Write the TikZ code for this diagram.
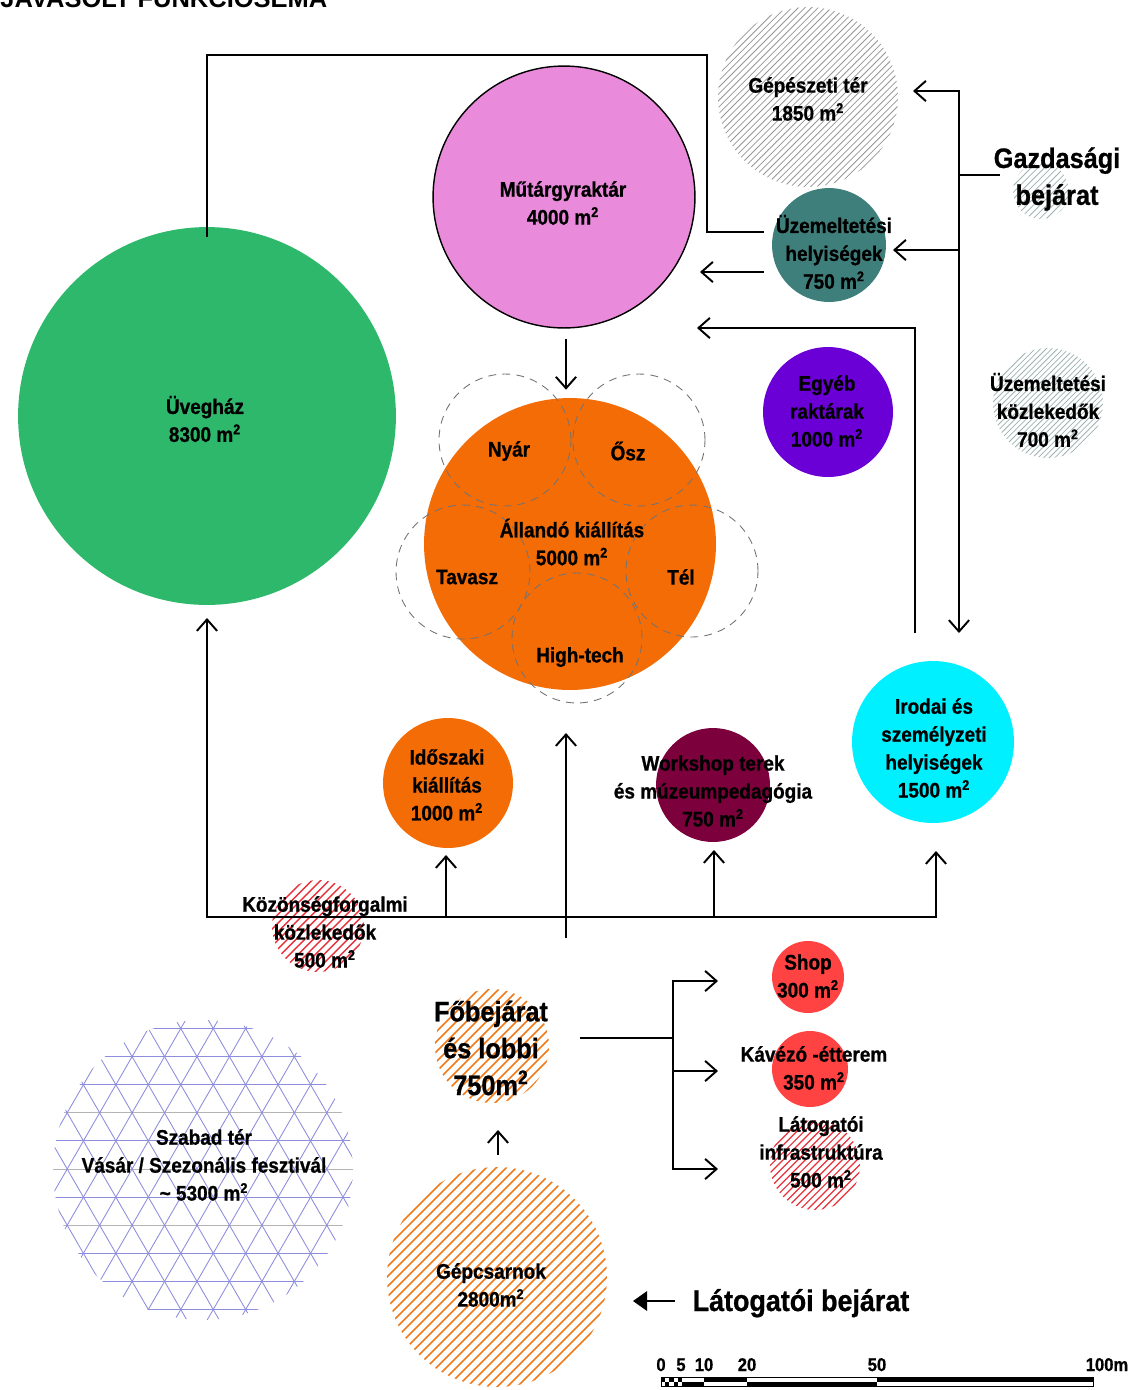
\documentclass[tikz,border=0pt]{standalone}
\usepackage{fontspec}
\setmainfont{Liberation Sans}[FakeStretch=0.9, BoldFeatures={FakeBold=0.8}]
\newfontfamily\titlefont{Liberation Sans}
\usepackage{tikz}
\usetikzlibrary{arrows.meta,calc}

\definecolor{uveggreen}{HTML}{2EB86B}
\definecolor{mutpink}{HTML}{E98ADA}
\definecolor{uzteal}{HTML}{3E7F7C}
\definecolor{egypurple}{HTML}{6A00D6}
\definecolor{expoorange}{HTML}{F46C06}
\definecolor{wsmaroon}{HTML}{7B003C}
\definecolor{irocyan}{HTML}{00F0FF}
\definecolor{shopred}{HTML}{FF4242}
\definecolor{hatchgray}{HTML}{959595}
\definecolor{hatchteal}{HTML}{9DB2B0}
\definecolor{hatchred}{HTML}{E8303A}
\definecolor{hatchorange}{HTML}{F07A18}
\definecolor{gridblue}{HTML}{8E8EDE}
\definecolor{gridgray}{HTML}{B4B4B4}

\newcommand{\lbl}{\fontsize{12}{15.9}\selectfont\bfseries}
\newcommand{\biglbl}{\fontsize{16}{21}\selectfont\bfseries}
\newcommand{\sqm}{m\textsuperscript{2}}

\begin{document}
\begin{tikzpicture}[
        x=0.02cm, y=-0.02cm,
        blob/.style={circle, inner sep=0pt, minimum size=#1*0.04cm},
        txt/.style={font=\lbl, align=center, inner sep=0pt},
        bigtxt/.style={font=\biglbl, align=center, inner sep=0pt},
        scaletxt/.style={font=\fontsize{10.5}{12}\selectfont\bfseries, inner sep=0pt, anchor=base},
        season/.style={blob=#1, draw=black!55, dash pattern=on 4.5pt off 3.5pt, line width=0.5pt},
        hatch/.style n args={3}{path picture={
            \foreach \k in {-25,...,25}
                \draw[#1, line width=#2] ($(path picture bounding box.center)+(\k*#3-150,\k*#3+150)$) -- ++(300,-300);
        }},
        trigrid/.style={path picture={
            \foreach \j in {-6,...,6}
                \draw[gridblue, line width=0.5pt] ($(path picture bounding box.center)+(-200,\j*28.1-1)$) -- ++(400,0);
            \foreach \j in {-2,0,2}
                \draw[gridgray, line width=0.5pt] ($(path picture bounding box.center)+(-200,\j*28.1-1)$) -- ++(400,0);
            \foreach \k in {-12,...,12} {
                \draw[gridblue, line width=0.5pt] ($(path picture bounding box.center)+(\k*32.45-6-6*32.45,-1-12*28.1)$) -- ++(12*32.45,24*28.1);
                \draw[gridblue, line width=0.5pt] ($(path picture bounding box.center)+(\k*32.45-6+6*32.45,-1-12*28.1)$) -- ++(-12*32.45,24*28.1);
            }
        }},
        link/.style={line width=1.1pt},
        arrow/.style={link, -{Straight Barb[length=6.5pt,width=11.5pt]}},
        twoarrow/.style={link, {Straight Barb[length=6.5pt,width=11.5pt]}-{Straight Barb[length=6.5pt,width=11.5pt]}},
        bigarrow/.style={line width=1.4pt, -{Triangle[length=8pt,width=11pt]}}
    ]
    \clip (0,0) rectangle (1134,1390);

    % Title (cut at the top)
    \node[font=\titlefont\fontsize{14.5}{16}\selectfont\bfseries, anchor=base west, inner sep=0pt] (title) at (0,7) {JAVASOLT FUNKCIÓSÉMA};

    % Areas
    \node[blob=189, fill=uveggreen] (uveg) at (207,416) {};
    \node[txt] (uveg-t) at (205,419) {Üvegház\\8300 \sqm};

    \node[blob=131, fill=mutpink, draw=black, line width=0.8pt] (mut) at (564,197) {};
    \node[txt] (mut-t) at (563,203) {Műtárgyraktár\\4000 \sqm};

    \node[blob=90, hatch={hatchgray}{0.45pt}{3.3}] (gep) at (808,97) {};
    \node[txt] (gep-t) at (808,99) {Gépészeti tér\\1850 \sqm};

    \node[blob=57, fill=uzteal] (uzh) at (829,245) {};
    \node[txt] (uzh-t) at (834,252) {Üzemeltetési\\helyiségek\\750 \sqm};

    \node[blob=28, hatch={hatchteal}{0.45pt}{3.3}] (gazd) at (1041,191) {};
    \node[bigtxt] (gazd-t) at (1057,179) {Gazdasági\\bejárat};

    \node[blob=65, fill=egypurple] (egy) at (828,412) {};
    \node[txt] (egy-t) at (827,411) {Egyéb\\raktárak\\1000 \sqm};

    \node[blob=55, hatch={hatchteal}{0.45pt}{2.8}] (uzk) at (1048,403) {};
    \node[txt] (uzk-t) at (1048,410) {Üzemeltetési\\közlekedők\\700 \sqm};

    \node[blob=146, fill=expoorange] (allando) at (570,544) {};
    \node[season=66] (nyar) at (505,440) {};
    \node[season=66] (osz) at (639,440) {};
    \node[season=67] (tavasz) at (463,572) {};
    \node[season=66] (tel) at (692,571) {};
    \node[season=65] (hitech) at (577,638) {};
    \node[txt] (allando-t) at (572,542) {Állandó kiállítás\\5000 \sqm};
    \node[txt] (nyar-t) at (509,451) {Nyár};
    \node[txt] (osz-t) at (628,451) {Ősz};
    \node[txt] (tavasz-t) at (467,577) {Tavasz};
    \node[txt] (tel-t) at (681,577) {Tél};
    \node[txt] (hitech-t) at (580,657) {High-tech};

    \node[blob=65, fill=expoorange] (ido) at (448,783) {};
    \node[txt] (ido-t) at (447,785) {Időszaki\\kiállítás\\1000 \sqm};

    \node[blob=57, fill=wsmaroon] (ws) at (713,785) {};
    \node[txt] (ws-t) at (713,791) {Workshop terek\\és múzeumpedagógia\\750 \sqm};

    \node[blob=81, fill=irocyan] (iro) at (933,742) {};
    \node[txt] (iro-t) at (934,748) {Irodai és\\személyzeti\\helyiségek\\1500 \sqm};

    \node[blob=46, hatch={hatchred}{0.8pt}{4.3}] (kozf) at (318,926) {};
    \node[txt] (kozf-t) at (325,932) {Közönségforgalmi\\közlekedők\\500 \sqm};

    \node[blob=36, fill=shopred] (shop) at (808,977) {};
    \node[txt] (shop-t) at (808,976) {Shop\\300 \sqm};

    \node[blob=38, fill=shopred] (kav) at (810,1069) {};
    \node[txt] (kav-t) at (814,1068) {Kávézó -étterem\\350 \sqm};

    \node[blob=45, hatch={hatchred}{0.7pt}{3.7}] (infra) at (815,1165) {};
    \node[txt] (infra-t) at (821,1152) {Látogatói\\infrastruktúra\\500 \sqm};

    \node[blob=57, hatch={hatchorange}{0.85pt}{5}] (lobby) at (492,1046) {};
    \node[bigtxt] (lobby-t) at (491,1048) {Főbejárat\\és lobbi\\750\sqm};

    \node[blob=110, hatch={hatchorange}{0.85pt}{5}] (gepcs) at (497,1277) {};
    \node[txt] (gepcs-t) at (491,1285) {Gépcsarnok\\2800\sqm};

    \node[blob=150, trigrid] (szabad) at (203,1170) {};
    \node[txt] (szabad-t) at (204,1165) {Szabad tér\\Vásár / Szezonális fesztivál\\\textasciitilde{} 5300 \sqm};

    \node[font=\fontsize{17}{20}\selectfont\bfseries, inner sep=0pt, anchor=base] (latb) at (801,1311) {Látogatói bejárat};

    % Connector ends
    \coordinate (topR) at (707,55);
    \coordinate (uzh-w) at (764,232);
    \coordinate (uzh-w2) at (764,272);
    \coordinate (mut-e) at (700,272);
    \coordinate (iro-up) at (915,633);
    \coordinate (mut-e2) at (697,328);
    \coordinate (gep-e) at (913,91);
    \coordinate (gazd-bot) at (959,633);
    \coordinate (gz-mid) at (959,250);
    \coordinate (uzh-e) at (893,250);
    \coordinate (gz-txt) at (959,175);
    \coordinate (gazd-in) at (1000,175);
    \coordinate (uveg-in) at (207,618);
    \coordinate (busR) at (936,917);
    \coordinate (iro-in) at (936,851);
    \coordinate (ido-in) at (446,855);
    \coordinate (ws-in) at (714,850);
    \coordinate (lobby-up) at (566,938);
    \coordinate (allando-in) at (566,733);
    \coordinate (lobby-out) at (580,1038);
    \coordinate (brX) at (673,1038);
    \coordinate (shop-in) at (718,981);
    \coordinate (kav-in) at (718,1071);
    \coordinate (infra-in) at (718,1169);
    \coordinate (gepcs-up) at (498,1155);
    \coordinate (lobby-in) at (498,1130);
    \coordinate (latb-out) at (675,1301);
    \coordinate (gepcs-e) at (633,1301);

    % Connectors
    \draw[link] ($(uveg.north)+(0,10)$) |- (topR) |- (uzh-w);
    \draw[arrow] (uzh-w2) -- (mut-e);
    \draw[arrow] (iro-up) |- (mut-e2);
    \draw[twoarrow] (gep-e) -| (gazd-bot);
    \draw[arrow] (gz-mid) -- (uzh-e);
    \draw[link] (gz-txt) -- (gazd-in);
    \draw[arrow] ($(mut.south)+(2,10)$) -- ($(allando.north)+(-4,-8)$);

    \draw[twoarrow] (uveg-in) |- (busR) -- (iro-in);
    \draw[arrow] (ido-in |- busR) -- (ido-in);
    \draw[arrow] (ws-in |- busR) -- (ws-in);
    \draw[arrow] (lobby-up) -- (allando-in);

    \draw[link] (lobby-out) -- (brX);
    \draw[twoarrow] (shop-in) -| (brX |- infra-in) -- (infra-in);
    \draw[arrow] (brX |- kav-in) -- (kav-in);
    \draw[arrow] (gepcs-up) -- (lobby-in);
    \draw[bigarrow] (latb-out) -- (gepcs-e);

    % Scale bar
    \foreach \i in {0,2,4} \fill (661+\i*4.2,1377) rectangle ++(4.2,4.5);
    \foreach \i in {1,3} \fill (661+\i*4.2,1381.5) rectangle ++(4.2,4.5);
    \fill (682,1381.5) rectangle (704,1386);
    \fill (704,1377) rectangle (747,1381.5);
    \fill (747,1381.5) rectangle (877,1386);
    \fill (877,1377) rectangle (1093,1381.5);
    \draw[line width=0.5pt] (661,1377) rectangle (1093,1386);
    \foreach \x/\t in {661/0, 681/5, 704/10, 747/20, 877/50}
        \node[scaletxt] (sc-\t) at (\x,1371) {\t};
    \node[scaletxt] (sc-100) at (1107,1371) {100m};

\end{tikzpicture}
\end{document}
